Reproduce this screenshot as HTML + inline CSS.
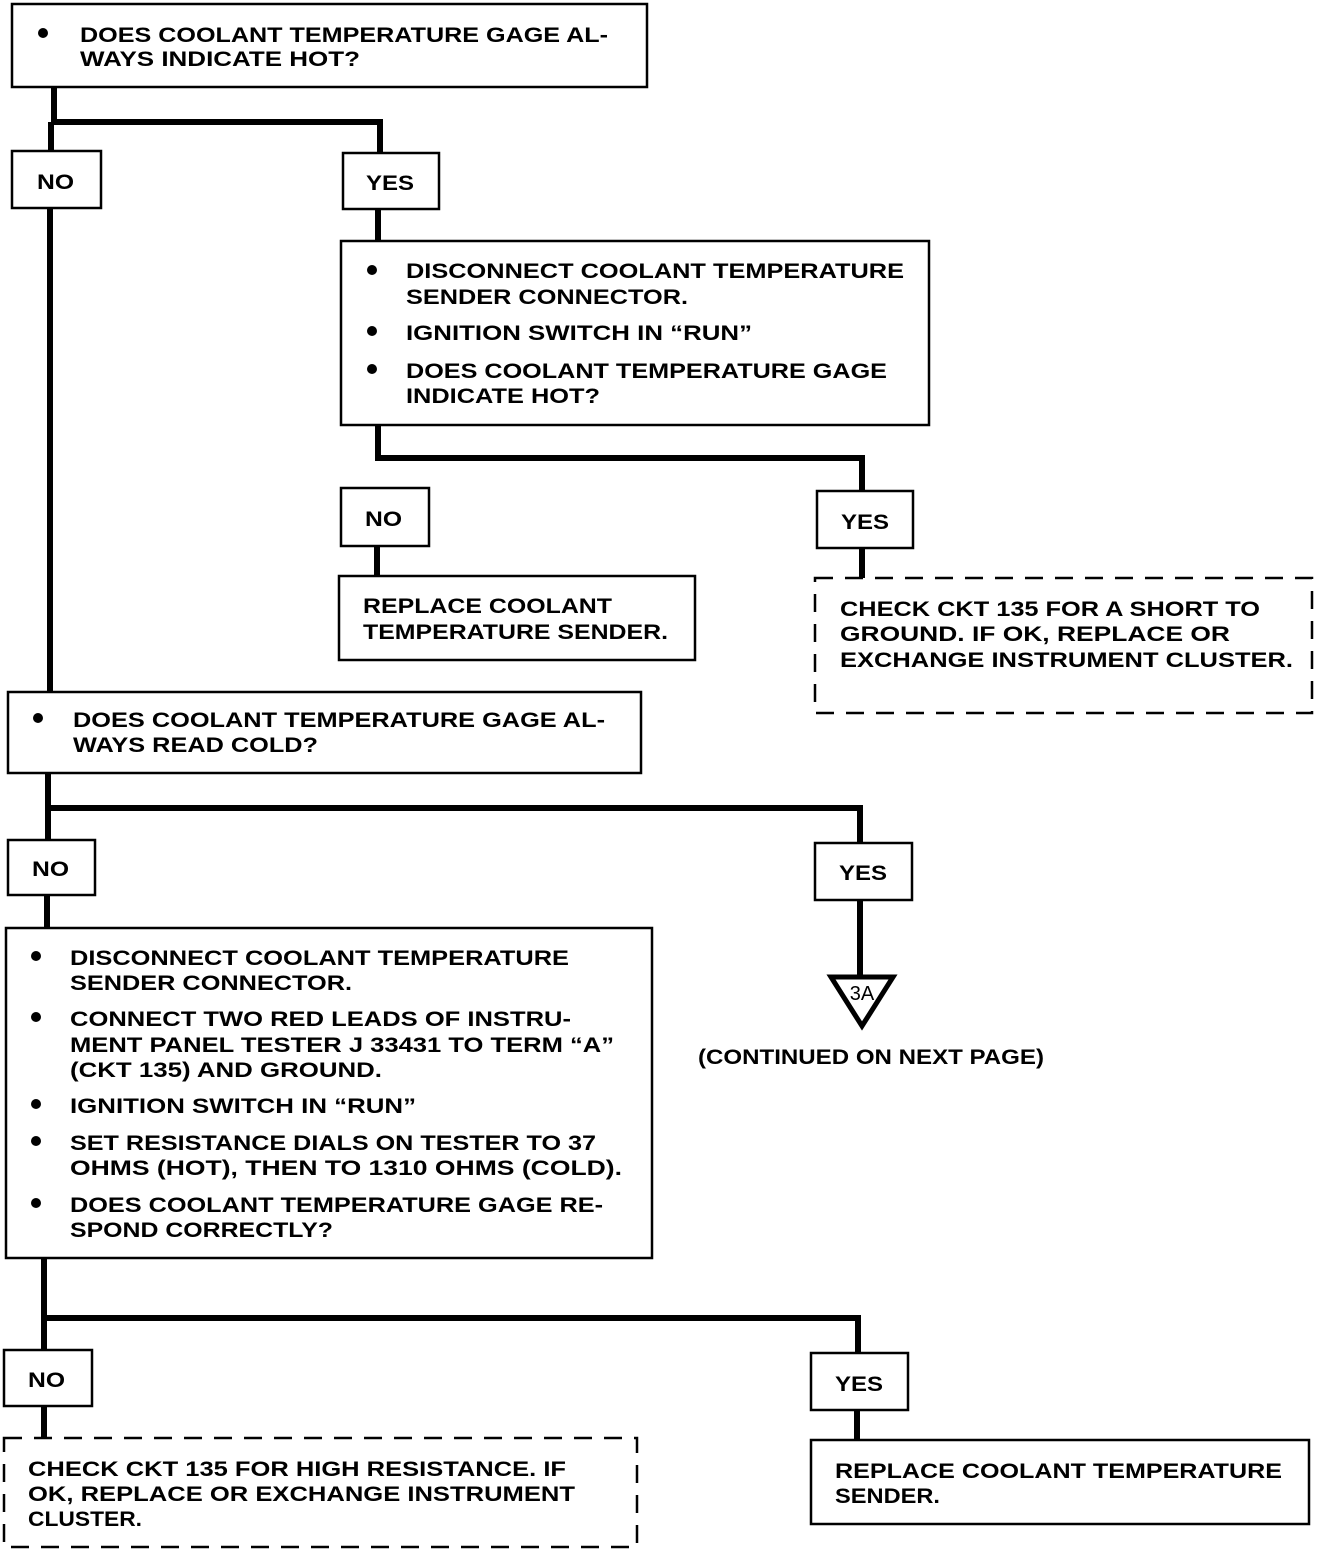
<!DOCTYPE html>
<html><head><meta charset="utf-8"><style>
html,body{margin:0;padding:0;background:#fff}
svg{display:block}
text{font-family:"Liberation Sans",sans-serif;font-weight:bold;font-size:21px;fill:#000}
</style></head><body>
<svg width="1328" height="1550" viewBox="0 0 1328 1550" xmlns="http://www.w3.org/2000/svg">
<g fill="#fff" stroke="#000" stroke-width="2.5">
<rect x="12" y="4" width="635" height="83"/>
<rect x="12" y="151" width="89" height="57"/>
<rect x="343" y="153" width="96" height="56"/>
<rect x="341" y="241" width="588" height="184"/>
<rect x="341" y="488" width="88" height="58"/>
<rect x="817" y="491" width="96" height="57"/>
<rect x="339" y="576" width="356" height="84"/>
<rect x="815" y="578" width="497" height="135" stroke-dasharray="18,12"/>
<rect x="8" y="692" width="633" height="81"/>
<rect x="8" y="840" width="87" height="55"/>
<rect x="815" y="843" width="97" height="57"/>
<rect x="6" y="928" width="646" height="330"/>
<rect x="4" y="1350" width="88" height="56"/>
<rect x="811" y="1353" width="97" height="57"/>
<rect x="4" y="1438" width="633" height="109" stroke-dasharray="18,12"/>
<rect x="811" y="1440" width="498" height="84"/>
</g>
<g fill="none" stroke="#000" stroke-width="6">
<polyline points="54,87 54,122 380,122 380,153"/>
<line x1="51" y1="122" x2="51" y2="151"/>
<line x1="50" y1="208" x2="50" y2="692"/>
<line x1="378" y1="209" x2="378" y2="241"/>
<polyline points="378,425 378,458 862,458 862,491"/>
<line x1="377" y1="546" x2="377" y2="576"/>
<line x1="862" y1="548" x2="862" y2="578"/>
<polyline points="48,773 48,808 860,808 860,843"/>
<line x1="48" y1="808" x2="48" y2="840"/>
<line x1="47" y1="895" x2="47" y2="928"/>
<line x1="860" y1="900" x2="860" y2="976"/>
<polyline points="44,1258 44,1318 858,1318 858,1353"/>
<line x1="44" y1="1318" x2="44" y2="1350"/>
<line x1="44" y1="1406" x2="44" y2="1438"/>
<line x1="857" y1="1410" x2="857" y2="1440"/>
</g>
<polygon points="831,977 893,977 862,1026" fill="#fff" stroke="#000" stroke-width="5" stroke-linejoin="miter"/>
<text x="862" y="1000" text-anchor="middle" style="font-size:20px;font-weight:normal">3A</text>
<g fill="#000">
<circle cx="43" cy="33" r="5"/>
<circle cx="372" cy="270" r="5"/><circle cx="372" cy="331" r="5"/><circle cx="372" cy="369" r="5"/>
<circle cx="38" cy="718" r="5"/>
<circle cx="36" cy="956" r="5"/><circle cx="36" cy="1017" r="5"/><circle cx="36" cy="1104" r="5"/><circle cx="36" cy="1141" r="5"/><circle cx="36" cy="1203" r="5"/>
</g>
<text x="80" y="42" textLength="528" lengthAdjust="spacingAndGlyphs">DOES COOLANT TEMPERATURE GAGE AL-</text>
<text x="80" y="66" textLength="280" lengthAdjust="spacingAndGlyphs">WAYS INDICATE HOT?</text>
<text x="37" y="189" textLength="37" lengthAdjust="spacingAndGlyphs">NO</text>
<text x="366" y="190" textLength="48" lengthAdjust="spacingAndGlyphs">YES</text>
<text x="406" y="278" textLength="498" lengthAdjust="spacingAndGlyphs">DISCONNECT COOLANT TEMPERATURE</text>
<text x="406" y="304" textLength="282" lengthAdjust="spacingAndGlyphs">SENDER CONNECTOR.</text>
<text x="406" y="340" textLength="346" lengthAdjust="spacingAndGlyphs">IGNITION SWITCH IN “RUN”</text>
<text x="406" y="378" textLength="481" lengthAdjust="spacingAndGlyphs">DOES COOLANT TEMPERATURE GAGE</text>
<text x="406" y="403" textLength="194" lengthAdjust="spacingAndGlyphs">INDICATE HOT?</text>
<text x="365" y="526" textLength="37" lengthAdjust="spacingAndGlyphs">NO</text>
<text x="841" y="529" textLength="48" lengthAdjust="spacingAndGlyphs">YES</text>
<text x="363" y="613" textLength="249" lengthAdjust="spacingAndGlyphs">REPLACE COOLANT</text>
<text x="363" y="639" textLength="305" lengthAdjust="spacingAndGlyphs">TEMPERATURE SENDER.</text>
<text x="840" y="616" textLength="420" lengthAdjust="spacingAndGlyphs">CHECK CKT 135 FOR A SHORT TO</text>
<text x="840" y="641" textLength="390" lengthAdjust="spacingAndGlyphs">GROUND.  IF OK, REPLACE OR</text>
<text x="840" y="667" textLength="453" lengthAdjust="spacingAndGlyphs">EXCHANGE INSTRUMENT CLUSTER.</text>
<text x="73" y="727" textLength="532" lengthAdjust="spacingAndGlyphs">DOES COOLANT TEMPERATURE GAGE AL-</text>
<text x="73" y="752" textLength="245" lengthAdjust="spacingAndGlyphs">WAYS READ COLD?</text>
<text x="32" y="876" textLength="37" lengthAdjust="spacingAndGlyphs">NO</text>
<text x="839" y="880" textLength="48" lengthAdjust="spacingAndGlyphs">YES</text>
<text x="70" y="965" textLength="499" lengthAdjust="spacingAndGlyphs">DISCONNECT COOLANT TEMPERATURE</text>
<text x="70" y="990" textLength="282" lengthAdjust="spacingAndGlyphs">SENDER CONNECTOR.</text>
<text x="70" y="1026" textLength="501" lengthAdjust="spacingAndGlyphs">CONNECT TWO RED LEADS OF INSTRU-</text>
<text x="70" y="1052" textLength="544" lengthAdjust="spacingAndGlyphs">MENT PANEL TESTER J 33431 TO TERM “A”</text>
<text x="70" y="1077" textLength="312" lengthAdjust="spacingAndGlyphs">(CKT 135) AND GROUND.</text>
<text x="70" y="1113" textLength="346" lengthAdjust="spacingAndGlyphs">IGNITION SWITCH IN “RUN”</text>
<text x="70" y="1150" textLength="526" lengthAdjust="spacingAndGlyphs">SET RESISTANCE DIALS ON TESTER TO 37</text>
<text x="70" y="1175" textLength="552" lengthAdjust="spacingAndGlyphs">OHMS (HOT), THEN TO 1310 OHMS (COLD).</text>
<text x="70" y="1212" textLength="533" lengthAdjust="spacingAndGlyphs">DOES COOLANT TEMPERATURE GAGE RE-</text>
<text x="70" y="1237" textLength="263" lengthAdjust="spacingAndGlyphs">SPOND CORRECTLY?</text>
<text x="698" y="1064" textLength="346" lengthAdjust="spacingAndGlyphs">(CONTINUED ON NEXT PAGE)</text>
<text x="28" y="1387" textLength="37" lengthAdjust="spacingAndGlyphs">NO</text>
<text x="835" y="1391" textLength="48" lengthAdjust="spacingAndGlyphs">YES</text>
<text x="28" y="1476" textLength="538" lengthAdjust="spacingAndGlyphs">CHECK CKT 135 FOR HIGH RESISTANCE. IF</text>
<text x="28" y="1501" textLength="547" lengthAdjust="spacingAndGlyphs">OK, REPLACE OR EXCHANGE INSTRUMENT</text>
<text x="28" y="1526" textLength="114" lengthAdjust="spacingAndGlyphs">CLUSTER.</text>
<text x="835" y="1478" textLength="447" lengthAdjust="spacingAndGlyphs">REPLACE COOLANT TEMPERATURE</text>
<text x="835" y="1503" textLength="105" lengthAdjust="spacingAndGlyphs">SENDER.</text>
</svg>
</body></html>
